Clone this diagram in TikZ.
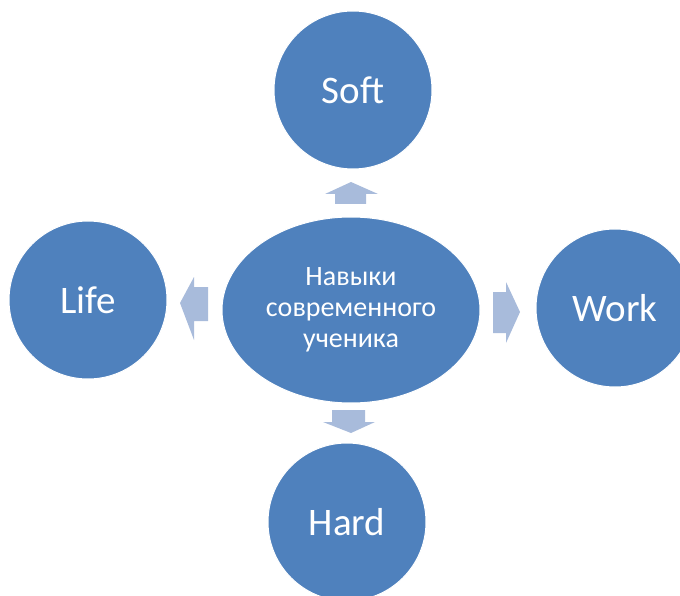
\documentclass[tikz,border=0pt]{standalone}
\usepackage{fontspec}
\setmainfont{Carlito}
\usetikzlibrary{shapes.geometric}
\definecolor{nodeblue}{HTML}{4F81BD}
\definecolor{arrowblue}{HTML}{A8BBDB}
\tikzset{
  bubble/.style={circle, fill=nodeblue, draw=white, line width=1pt, minimum size=158pt, inner sep=0pt, text=white, font=\fontsize{39}{44}\selectfont},
  core/.style={ellipse, fill=nodeblue, draw=white, line width=1pt, minimum width=258pt, minimum height=186pt, inner sep=0pt, text=white, align=center, font=\fontsize{28}{31}\selectfont},
  blockarrow/.style={fill=arrowblue, draw=none}
}
\begin{document}
\begin{tikzpicture}[x=1pt,y=-1pt]
\useasboundingbox (0,0) rectangle (680,596);
\node[bubble] (soft) at (353,90) {Soft};
\node[bubble] (life) at (88,300) {Life};
\node[bubble] (work) at (615,308) {Work};
\node[bubble] (hard) at (347,522) {Hard};
\node[core] (center) at (351,310) {Навыки\\современного\\ученика};
% block arrows
\fill[blockarrow] (351,182) -- (378,194) -- (366,194) -- (366,204) -- (335,204) -- (335,194) -- (325,194) -- cycle;
\fill[blockarrow] (180,303) -- (194,277) -- (194,287) -- (208,287) -- (208,321) -- (194,321) -- (194,340) -- cycle;
\fill[blockarrow] (520,312) -- (506,282) -- (506,292) -- (493,292) -- (493,333) -- (506,333) -- (506,343) -- cycle;
\fill[blockarrow] (351,433) -- (375,422) -- (365,422) -- (365,410) -- (332,410) -- (332,422) -- (323,422) -- cycle;
\end{tikzpicture}
\end{document}
